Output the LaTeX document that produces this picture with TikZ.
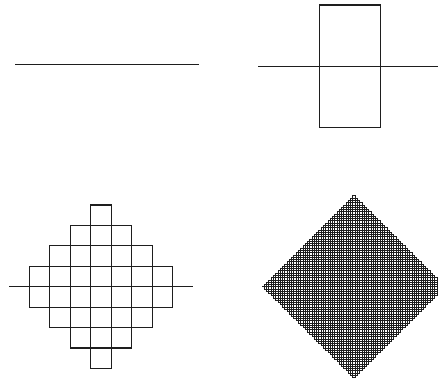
\documentclass[tikz,border=0pt]{standalone}
\usepackage{tikz}
\usetikzlibrary{lindenmayersystems}
\definecolor{peanoline}{RGB}{30,30,30}

\pgfdeclarelindenmayersystem{Peano curve}{
    \rule{F -> F+F-F-F-F+F+F+F-F}
}

\begin{document}
\begin{tikzpicture}[x=1pt,y=1pt]
    \useasboundingbox (0,0) rectangle (438,377);
    \clip (0,0) rectangle (438,377);

    % Iterations side by side
    \foreach \n/\len/\lw/\px/\py in {0/184/1.2/15/312.5, 1/61.333/1.2/258/310.7, 2/20.444/1.2/9/90.3, 4/2.2716/0.75/262/90.3} {
        \begin{scope}[shift={(\px,\py)}]
            \draw[peanoline, line width=\lw pt, line join=miter,
                lindenmayer system={Peano curve, axiom=F, order=\n, angle=90, step=\len pt}]
                (0,0) lindenmayer system;
        \end{scope}
    }
\end{tikzpicture}
\end{document}
